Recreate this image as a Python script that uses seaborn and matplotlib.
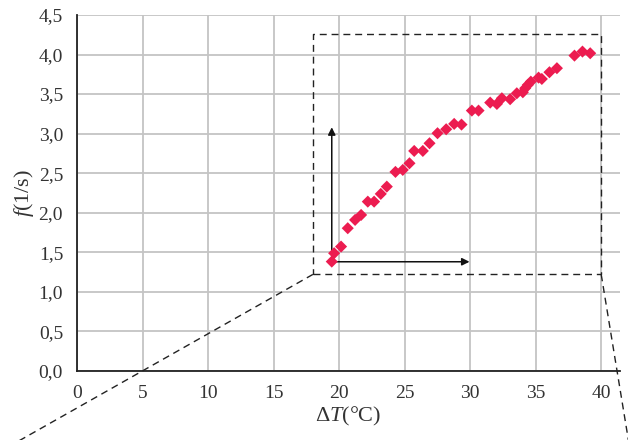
import numpy as np
import pandas as pd
import matplotlib.pyplot as plt
import seaborn as sns

# ── data ─────────────────────────────────────────────────────────────────────
delta_t = [19.44, 19.62, 20.15, 20.66, 21.22, 21.68, 22.19, 22.67, 23.18, 23.64,
           24.30, 24.86, 25.37, 25.73, 26.39, 26.90, 27.51, 28.17, 28.78, 29.34,
           30.13, 30.64, 31.53, 32.04, 32.42, 33.05, 33.56, 34.02, 34.20, 34.40,
           34.63, 35.22, 35.47, 36.05, 36.62, 37.96, 38.57, 39.16]
freq = [1.382, 1.488, 1.572, 1.804, 1.909, 1.972, 2.140, 2.140, 2.238, 2.330,
        2.516, 2.541, 2.625, 2.781, 2.781, 2.878, 3.005, 3.055, 3.123, 3.114,
        3.291, 3.291, 3.392, 3.375, 3.447, 3.435, 3.510, 3.523, 3.574, 3.616,
        3.657, 3.708, 3.691, 3.776, 3.827, 3.986, 4.037, 4.016]

x_ticks = [0, 5, 10, 15, 20, 25, 30, 35, 40]
y_ticks = [0.0, 0.5, 1.0, 1.5, 2.0, 2.5, 3.0, 3.5, 4.0, 4.5]
y_tick_labels = ["0,0", "0,5", "1,0", "1,5", "2,0", "2,5", "3,0", "3,5", "4,0", "4,5"]

# zoom box and arrows
box_x = [18.0, 40.0]
box_y = [1.22, 4.26]
arrow_origin = (19.44, 1.38)
arrow_x_end = 29.95
arrow_y_end = 3.08

df = pd.DataFrame({"dT": delta_t, "f": freq})

# ── style ────────────────────────────────────────────────────────────────────
sns.set_theme(style="white")
plt.rcParams["font.family"] = ["Liberation Serif", "DejaVu Serif"]
plt.rcParams["mathtext.fontset"] = "custom"
plt.rcParams["mathtext.rm"] = "Liberation Serif"
plt.rcParams["mathtext.it"] = "Liberation Serif:italic"

fig = plt.figure(figsize=(6.28, 4.40), dpi=100)
ax = fig.add_axes([0.1226, 0.157, 0.865, 0.809])

sns.scatterplot(data=df, x="dT", y="f", marker="D", s=38, color="#EC1C50",
                edgecolor="none", ax=ax, zorder=3)

ax.set_xlim(0, 41.45)
ax.set_ylim(0, 4.5)
ax.set_xticks(x_ticks)
ax.set_xticklabels([str(t) for t in x_ticks])
ax.set_yticks(y_ticks)
ax.set_yticklabels(y_tick_labels)
ax.tick_params(axis="both", direction="out", length=6, width=1.1,
               color="#222222", labelsize=14, labelcolor="#333333", pad=4)
ax.grid(True, color="#C4C4C4", linewidth=1.3)
ax.set_axisbelow(True)

for side in ["top", "right"]:
    ax.spines[side].set_visible(False)
for side in ["left", "bottom"]:
    ax.spines[side].set_color("#222222")
    ax.spines[side].set_linewidth(1.3)
    ax.spines[side].set_zorder(4)

ax.set_xlabel(r"$\Delta T$(°C)", fontsize=16, color="#333333", labelpad=2)
ax.set_ylabel(r"$f$(1/s)", fontsize=16, color="#333333", labelpad=2)

# dashed zoom rectangle
dash = dict(color="#222222", linestyle=(0, (5, 3.5)), linewidth=1.0, zorder=2)
ax.plot([box_x[0], box_x[1], box_x[1], box_x[0], box_x[0]],
        [box_y[0], box_y[0], box_y[1], box_y[1], box_y[0]], **dash)
# projection lines leaving the axes
ax.plot([box_x[0], -4.6], [box_y[0], -0.90], clip_on=False, **dash)
ax.plot([box_x[1], 42.1], [box_y[0], -0.90], clip_on=False, **dash)

# arrows
arrow = dict(arrowstyle="-|>", color="#111111", lw=1.1,
             mutation_scale=11, shrinkA=0, shrinkB=0)
ax.annotate("", xy=(arrow_x_end, arrow_origin[1]), xytext=arrow_origin,
            arrowprops=arrow, zorder=2)
ax.annotate("", xy=(arrow_origin[0], arrow_y_end), xytext=arrow_origin,
            arrowprops=arrow, zorder=2)

plt.savefig("out.png", dpi=100)
plt.close()
